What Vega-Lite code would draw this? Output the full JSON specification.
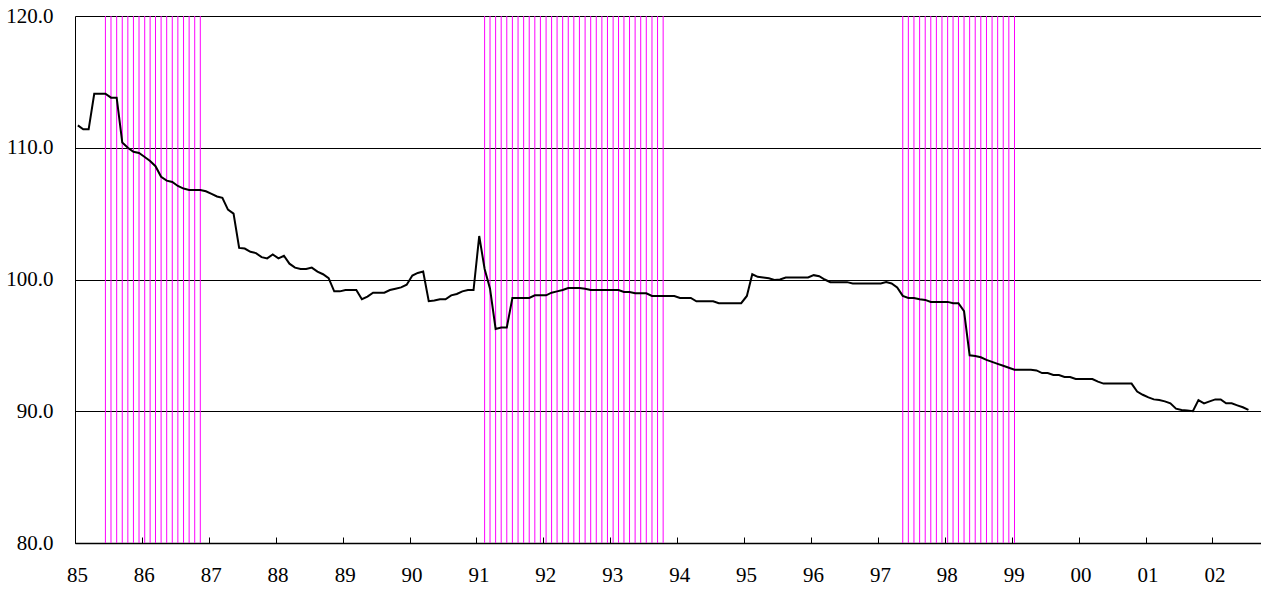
{
  "$schema": "https://vega.github.io/schema/vega-lite/v6.json",
  "width": 1186,
  "height": 527,
  "autosize": {"type": "none"},
  "padding": {"left": 75, "top": 16, "right": 0, "bottom": 49},
  "background": "white",
  "config": {
    "view": {"stroke": null},
    "axis": {"labelFont": "Liberation Serif", "labelFontSize": 21, "labelColor": "#000000"}
  },
  "datasets": {
    "series": [
      {"date": "1985-01-01", "v": 111.7}, {"date": "1985-02-01", "v": 111.4}, {"date": "1985-03-01", "v": 111.4},
      {"date": "1985-04-01", "v": 114.1}, {"date": "1985-05-01", "v": 114.1}, {"date": "1985-06-01", "v": 114.1},
      {"date": "1985-07-01", "v": 113.8}, {"date": "1985-08-01", "v": 113.8}, {"date": "1985-09-01", "v": 110.4},
      {"date": "1985-10-01", "v": 110.0}, {"date": "1985-11-01", "v": 109.7}, {"date": "1985-12-01", "v": 109.6},
      {"date": "1986-01-01", "v": 109.3}, {"date": "1986-02-01", "v": 109.0}, {"date": "1986-03-01", "v": 108.6},
      {"date": "1986-04-01", "v": 107.8}, {"date": "1986-05-01", "v": 107.5}, {"date": "1986-06-01", "v": 107.4},
      {"date": "1986-07-01", "v": 107.1}, {"date": "1986-08-01", "v": 106.9}, {"date": "1986-09-01", "v": 106.8},
      {"date": "1986-10-01", "v": 106.8}, {"date": "1986-11-01", "v": 106.8}, {"date": "1986-12-01", "v": 106.7},
      {"date": "1987-01-01", "v": 106.5}, {"date": "1987-02-01", "v": 106.3}, {"date": "1987-03-01", "v": 106.2},
      {"date": "1987-04-01", "v": 105.3}, {"date": "1987-05-01", "v": 105.0}, {"date": "1987-06-01", "v": 102.4},
      {"date": "1987-07-01", "v": 102.35}, {"date": "1987-08-01", "v": 102.1}, {"date": "1987-09-01", "v": 102.0},
      {"date": "1987-10-01", "v": 101.7}, {"date": "1987-11-01", "v": 101.6}, {"date": "1987-12-01", "v": 101.9},
      {"date": "1988-01-01", "v": 101.6}, {"date": "1988-02-01", "v": 101.8}, {"date": "1988-03-01", "v": 101.2},
      {"date": "1988-04-01", "v": 100.9}, {"date": "1988-05-01", "v": 100.8}, {"date": "1988-06-01", "v": 100.8},
      {"date": "1988-07-01", "v": 100.9}, {"date": "1988-08-01", "v": 100.6}, {"date": "1988-09-01", "v": 100.4},
      {"date": "1988-10-01", "v": 100.1}, {"date": "1988-11-01", "v": 99.1}, {"date": "1988-12-01", "v": 99.1},
      {"date": "1989-01-01", "v": 99.2}, {"date": "1989-02-01", "v": 99.2}, {"date": "1989-03-01", "v": 99.2},
      {"date": "1989-04-01", "v": 98.5}, {"date": "1989-05-01", "v": 98.7}, {"date": "1989-06-01", "v": 99.0},
      {"date": "1989-07-01", "v": 99.0}, {"date": "1989-08-01", "v": 99.0}, {"date": "1989-09-01", "v": 99.2},
      {"date": "1989-10-01", "v": 99.3}, {"date": "1989-11-01", "v": 99.4}, {"date": "1989-12-01", "v": 99.6},
      {"date": "1990-01-01", "v": 100.3}, {"date": "1990-02-01", "v": 100.5}, {"date": "1990-03-01", "v": 100.6},
      {"date": "1990-04-01", "v": 98.35}, {"date": "1990-05-01", "v": 98.4}, {"date": "1990-06-01", "v": 98.5},
      {"date": "1990-07-01", "v": 98.5}, {"date": "1990-08-01", "v": 98.8}, {"date": "1990-09-01", "v": 98.9},
      {"date": "1990-10-01", "v": 99.1}, {"date": "1990-11-01", "v": 99.2}, {"date": "1990-12-01", "v": 99.2},
      {"date": "1991-01-01", "v": 103.3}, {"date": "1991-02-01", "v": 100.8}, {"date": "1991-03-01", "v": 99.3},
      {"date": "1991-04-01", "v": 96.25}, {"date": "1991-05-01", "v": 96.35}, {"date": "1991-06-01", "v": 96.35},
      {"date": "1991-07-01", "v": 98.6}, {"date": "1991-08-01", "v": 98.6}, {"date": "1991-09-01", "v": 98.6},
      {"date": "1991-10-01", "v": 98.6}, {"date": "1991-11-01", "v": 98.8}, {"date": "1991-12-01", "v": 98.8},
      {"date": "1992-01-01", "v": 98.8}, {"date": "1992-02-01", "v": 99.0}, {"date": "1992-03-01", "v": 99.1},
      {"date": "1992-04-01", "v": 99.2}, {"date": "1992-05-01", "v": 99.35}, {"date": "1992-06-01", "v": 99.35},
      {"date": "1992-07-01", "v": 99.35}, {"date": "1992-08-01", "v": 99.3}, {"date": "1992-09-01", "v": 99.2},
      {"date": "1992-10-01", "v": 99.2}, {"date": "1992-11-01", "v": 99.2}, {"date": "1992-12-01", "v": 99.2},
      {"date": "1993-01-01", "v": 99.2}, {"date": "1993-02-01", "v": 99.2}, {"date": "1993-03-01", "v": 99.05},
      {"date": "1993-04-01", "v": 99.05}, {"date": "1993-05-01", "v": 98.95}, {"date": "1993-06-01", "v": 98.95},
      {"date": "1993-07-01", "v": 98.95}, {"date": "1993-08-01", "v": 98.75}, {"date": "1993-09-01", "v": 98.75},
      {"date": "1993-10-01", "v": 98.75}, {"date": "1993-11-01", "v": 98.75}, {"date": "1993-12-01", "v": 98.75},
      {"date": "1994-01-01", "v": 98.6}, {"date": "1994-02-01", "v": 98.6}, {"date": "1994-03-01", "v": 98.6},
      {"date": "1994-04-01", "v": 98.35}, {"date": "1994-05-01", "v": 98.35}, {"date": "1994-06-01", "v": 98.35},
      {"date": "1994-07-01", "v": 98.35}, {"date": "1994-08-01", "v": 98.2}, {"date": "1994-09-01", "v": 98.2},
      {"date": "1994-10-01", "v": 98.2}, {"date": "1994-11-01", "v": 98.2}, {"date": "1994-12-01", "v": 98.2},
      {"date": "1995-01-01", "v": 98.75}, {"date": "1995-02-01", "v": 100.4}, {"date": "1995-03-01", "v": 100.2},
      {"date": "1995-04-01", "v": 100.15}, {"date": "1995-05-01", "v": 100.1}, {"date": "1995-06-01", "v": 99.97},
      {"date": "1995-07-01", "v": 100.0}, {"date": "1995-08-01", "v": 100.15}, {"date": "1995-09-01", "v": 100.15},
      {"date": "1995-10-01", "v": 100.15}, {"date": "1995-11-01", "v": 100.15}, {"date": "1995-12-01", "v": 100.15},
      {"date": "1996-01-01", "v": 100.33}, {"date": "1996-02-01", "v": 100.25}, {"date": "1996-03-01", "v": 100.0},
      {"date": "1996-04-01", "v": 99.8}, {"date": "1996-05-01", "v": 99.8}, {"date": "1996-06-01", "v": 99.8},
      {"date": "1996-07-01", "v": 99.8}, {"date": "1996-08-01", "v": 99.7}, {"date": "1996-09-01", "v": 99.7},
      {"date": "1996-10-01", "v": 99.7}, {"date": "1996-11-01", "v": 99.7}, {"date": "1996-12-01", "v": 99.7},
      {"date": "1997-01-01", "v": 99.7}, {"date": "1997-02-01", "v": 99.8}, {"date": "1997-03-01", "v": 99.7},
      {"date": "1997-04-01", "v": 99.4}, {"date": "1997-05-01", "v": 98.76}, {"date": "1997-06-01", "v": 98.6},
      {"date": "1997-07-01", "v": 98.6}, {"date": "1997-08-01", "v": 98.5}, {"date": "1997-09-01", "v": 98.45},
      {"date": "1997-10-01", "v": 98.3}, {"date": "1997-11-01", "v": 98.3}, {"date": "1997-12-01", "v": 98.3},
      {"date": "1998-01-01", "v": 98.3}, {"date": "1998-02-01", "v": 98.2}, {"date": "1998-03-01", "v": 98.2},
      {"date": "1998-04-01", "v": 97.6}, {"date": "1998-05-01", "v": 94.25}, {"date": "1998-06-01", "v": 94.2},
      {"date": "1998-07-01", "v": 94.1}, {"date": "1998-08-01", "v": 93.9}, {"date": "1998-09-01", "v": 93.75},
      {"date": "1998-10-01", "v": 93.6}, {"date": "1998-11-01", "v": 93.45}, {"date": "1998-12-01", "v": 93.3},
      {"date": "1999-01-01", "v": 93.15}, {"date": "1999-02-01", "v": 93.15}, {"date": "1999-03-01", "v": 93.15},
      {"date": "1999-04-01", "v": 93.15}, {"date": "1999-05-01", "v": 93.1}, {"date": "1999-06-01", "v": 92.9},
      {"date": "1999-07-01", "v": 92.9}, {"date": "1999-08-01", "v": 92.75}, {"date": "1999-09-01", "v": 92.75},
      {"date": "1999-10-01", "v": 92.6}, {"date": "1999-11-01", "v": 92.6}, {"date": "1999-12-01", "v": 92.45},
      {"date": "2000-01-01", "v": 92.45}, {"date": "2000-02-01", "v": 92.45}, {"date": "2000-03-01", "v": 92.45},
      {"date": "2000-04-01", "v": 92.25}, {"date": "2000-05-01", "v": 92.1}, {"date": "2000-06-01", "v": 92.1},
      {"date": "2000-07-01", "v": 92.1}, {"date": "2000-08-01", "v": 92.1}, {"date": "2000-09-01", "v": 92.1},
      {"date": "2000-10-01", "v": 92.1}, {"date": "2000-11-01", "v": 91.5}, {"date": "2000-12-01", "v": 91.25},
      {"date": "2001-01-01", "v": 91.05}, {"date": "2001-02-01", "v": 90.9}, {"date": "2001-03-01", "v": 90.85},
      {"date": "2001-04-01", "v": 90.75}, {"date": "2001-05-01", "v": 90.6}, {"date": "2001-06-01", "v": 90.2},
      {"date": "2001-07-01", "v": 90.1}, {"date": "2001-08-01", "v": 90.05}, {"date": "2001-09-01", "v": 90.0},
      {"date": "2001-10-01", "v": 90.85}, {"date": "2001-11-01", "v": 90.6}, {"date": "2001-12-01", "v": 90.75},
      {"date": "2002-01-01", "v": 90.9}, {"date": "2002-02-01", "v": 90.9}, {"date": "2002-03-01", "v": 90.6},
      {"date": "2002-04-01", "v": 90.6}, {"date": "2002-05-01", "v": 90.45}, {"date": "2002-06-01", "v": 90.3},
      {"date": "2002-07-01", "v": 90.1}
    ],
    "recession": [
      {"date": "1985-06-01"}, {"date": "1985-07-01"}, {"date": "1985-08-01"}, {"date": "1985-09-01"},
      {"date": "1985-10-01"}, {"date": "1985-11-01"}, {"date": "1985-12-01"}, {"date": "1986-01-01"},
      {"date": "1986-02-01"}, {"date": "1986-03-01"}, {"date": "1986-04-01"}, {"date": "1986-05-01"},
      {"date": "1986-06-01"}, {"date": "1986-07-01"}, {"date": "1986-08-01"}, {"date": "1986-09-01"},
      {"date": "1986-10-01"}, {"date": "1986-11-01"},
      {"date": "1991-02-01"}, {"date": "1991-03-01"}, {"date": "1991-04-01"}, {"date": "1991-05-01"},
      {"date": "1991-06-01"}, {"date": "1991-07-01"}, {"date": "1991-08-01"}, {"date": "1991-09-01"},
      {"date": "1991-10-01"}, {"date": "1991-11-01"}, {"date": "1991-12-01"}, {"date": "1992-01-01"},
      {"date": "1992-02-01"}, {"date": "1992-03-01"}, {"date": "1992-04-01"}, {"date": "1992-05-01"},
      {"date": "1992-06-01"}, {"date": "1992-07-01"}, {"date": "1992-08-01"}, {"date": "1992-09-01"},
      {"date": "1992-10-01"}, {"date": "1992-11-01"}, {"date": "1992-12-01"}, {"date": "1993-01-01"},
      {"date": "1993-02-01"}, {"date": "1993-03-01"}, {"date": "1993-04-01"}, {"date": "1993-05-01"},
      {"date": "1993-06-01"}, {"date": "1993-07-01"}, {"date": "1993-08-01"}, {"date": "1993-09-01"},
      {"date": "1993-10-01"},
      {"date": "1997-05-01"}, {"date": "1997-06-01"}, {"date": "1997-07-01"}, {"date": "1997-08-01"},
      {"date": "1997-09-01"}, {"date": "1997-10-01"}, {"date": "1997-11-01"}, {"date": "1997-12-01"},
      {"date": "1998-01-01"}, {"date": "1998-02-01"}, {"date": "1998-03-01"}, {"date": "1998-04-01"},
      {"date": "1998-05-01"}, {"date": "1998-06-01"}, {"date": "1998-07-01"}, {"date": "1998-08-01"},
      {"date": "1998-09-01"}, {"date": "1998-10-01"}, {"date": "1998-11-01"}, {"date": "1998-12-01"},
      {"date": "1999-01-01"}
    ]
  },
  "layer": [
    {
      "data": {"name": "recession"},
      "mark": {"type": "rule", "color": "#FF00FF", "strokeWidth": 1},
      "encoding": {
        "x": {
          "field": "date", "type": "temporal", "timeUnit": "utcyearmonth", "bandPosition": 0.5,
          "scale": {"type": "utc", "domain": [{"year": 1985, "month": 1, "date": 1, "utc": true}, {"year": 2002, "month": 9, "date": 23, "utc": true}], "nice": false},
          "axis": {
            "title": null, "format": "%y", "tickCount": {"interval": "year", "step": 1},
            "grid": false, "tickSize": -6, "tickColor": "#000000", "tickWidth": 1,
            "domainColor": "#000000", "domainWidth": 1.5,
            "labelPadding": 27, "labelOffset": 2, "labelFlush": false, "labelOverlap": false
          }
        }
      }
    },
    {
      "data": {"name": "series"},
      "mark": {"type": "line", "color": "#000000", "strokeWidth": 2},
      "encoding": {
        "x": {"field": "date", "type": "temporal", "timeUnit": "utcyearmonth", "bandPosition": 0.5},
        "y": {
          "field": "v", "type": "quantitative",
          "scale": {"domain": [80, 120], "nice": false, "zero": false},
          "axis": {
            "title": null, "values": [80, 90, 100, 110, 120], "format": ".1f",
            "grid": true, "gridColor": "#000000", "gridWidth": 1, "gridOpacity": 1,
            "ticks": false, "domainColor": "#000000", "domainWidth": 1, "labelPadding": 22
          }
        }
      }
    }
  ]
}
